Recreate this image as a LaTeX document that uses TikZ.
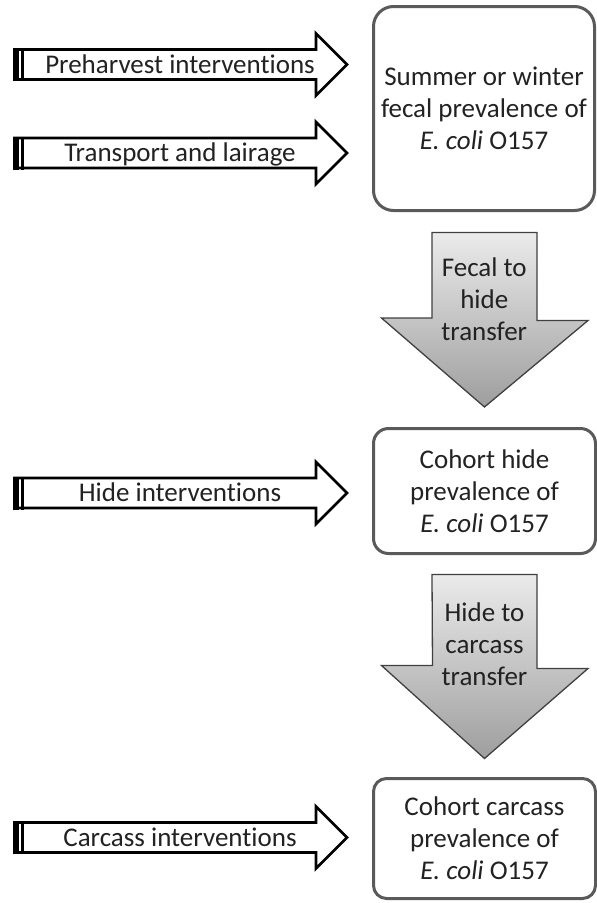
\documentclass[tikz,border=0pt]{standalone}
\usepackage{fontspec}
\setmainfont{Carlito}[Ligatures={NoCommon,NoContextual},Contextuals={NoAlternate}]
\usetikzlibrary{calc}

\definecolor{boxgray}{HTML}{5A5A5A}
\definecolor{txtgray}{HTML}{222222}

\begin{document}
\begin{tikzpicture}[
    x=1pt, y=-1pt,
    font=\fontsize{27}{32}\selectfont,
    box/.style={draw=boxgray,line width=3pt,fill=white,align=center,text=txtgray,inner sep=0pt},
    inarrow/.style={draw=black,line width=2.8pt,fill=white,line join=miter},
    downarrow/.style={draw=black!75,line width=1.3pt,top color=black!8,bottom color=black!38},
    lbl/.style={text=txtgray,align=center,inner sep=0pt}
]
    \useasboundingbox (0,0) rectangle (597,903);

    % Prevalence boxes
    \node[box,minimum width=221pt,minimum height=204pt,rounded corners=20pt] (fecal) at (484,108.5)
        {Summer or winter\\fecal prevalence of\\\textit{E. coli} O157};
    \node[box,minimum width=222pt,minimum height=125pt,rounded corners=15pt] (hide) at (484.5,491)
        {Cohort hide\\prevalence of\\\textit{E. coli} O157};
    \node[box,minimum width=222pt,minimum height=120pt,rounded corners=13pt] (carcass) at (484.5,838.5)
        {Cohort carcass\\prevalence of\\\textit{E. coli} O157};

    % Interventions pointing into the boxes
    \foreach \yc/\nm/\txt in {64.5/preh/Preharvest interventions,
                              153/trans/Transport and lairage,
                              493/hidei/Hide interventions,
                              837.5/carci/Carcass interventions} {
        \draw[inarrow] (14.5,\yc-15) -- (316,\yc-15) -- (316,\yc-31) -- (347,\yc)
            -- (316,\yc+31) -- (316,\yc+15) -- (14.5,\yc+15) -- cycle;
        \fill (13,\yc-16.5) rectangle (19,\yc+16.5);
        \draw[line width=2.5pt] (22.5,\yc-16.5) -- (22.5,\yc+16.5);
        \node[lbl,text height=17pt,text depth=0pt] (\nm) at (180,\yc) {\txt};
    }

    % Transfer arrows between the boxes
    \draw[downarrow] ($(fecal.south)+(-52,20.5)$) -- ++(105,0) -- ++(0,88) -- ++(51,0)
        -- ($(hide.north)+(0,-20)$) -- ++(-103,-89) -- ++(50.5,0) -- cycle;
    \node[lbl] (f2h) at ($(fecal.south)!0.5!(hide.north)+(0,-20)$) {Fecal to\\hide\\transfer};

    \draw[downarrow] ($(hide.south)+(-52.5,19.5)$) -- ++(105,0) -- ++(0,94) -- ++(51,0)
        -- ($(carcass.north)+(0,-18.5)$) -- ++(-103,-93) -- ++(51,0) -- cycle;
    \node[lbl] (h2c) at ($(hide.south)!0.5!(carcass.north)+(0,-22)$) {Hide to\\carcass\\transfer};
\end{tikzpicture}
\end{document}
